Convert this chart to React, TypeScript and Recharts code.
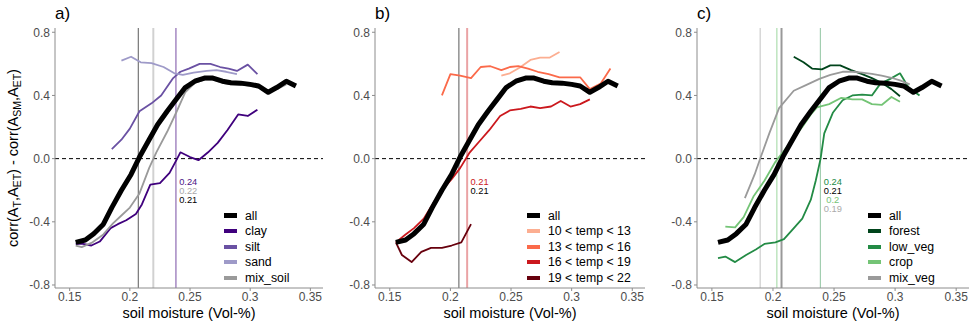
import React from 'react';
import {
    LineChart,
    Line,
    XAxis,
    YAxis,
    ReferenceLine,
    ReferenceDot,
} from 'recharts';

// --- Data ---
const ALL_X = [0.155, 0.163, 0.170, 0.178, 0.185, 0.193, 0.201, 0.208, 0.216, 0.223, 0.231, 0.239, 0.246, 0.254, 0.262, 0.269, 0.277, 0.284, 0.292, 0.300, 0.307, 0.315, 0.322, 0.330, 0.338];
const ALL_Y = [-0.53, -0.515, -0.475, -0.415, -0.31, -0.2, -0.1, 0.01, 0.12, 0.215, 0.3, 0.38, 0.45, 0.49, 0.51, 0.51, 0.49, 0.48, 0.478, 0.47, 0.46, 0.42, 0.45, 0.49, 0.46];

// soil texture
const CLAY_X = [0.155, 0.161, 0.168, 0.175, 0.184, 0.190, 0.197, 0.205, 0.210, 0.217, 0.225, 0.233, 0.239, 0.242, 0.250, 0.257, 0.265, 0.273, 0.281, 0.290, 0.298, 0.306];
const CLAY_Y = [-0.54, -0.54, -0.55, -0.525, -0.44, -0.415, -0.39, -0.35, -0.29, -0.165, -0.155, -0.09, -0.005, 0.04, 0.01, -0.01, 0.04, 0.1, 0.18, 0.28, 0.27, 0.31];
const SILT_X = [0.185, 0.193, 0.200, 0.208, 0.218, 0.226, 0.236, 0.242, 0.249, 0.258, 0.267, 0.275, 0.282, 0.289, 0.298, 0.306];
const SILT_Y = [0.06, 0.12, 0.19, 0.3, 0.35, 0.4, 0.51, 0.55, 0.57, 0.6, 0.6, 0.58, 0.57, 0.555, 0.595, 0.535];
const SAND_X = [0.193, 0.201, 0.209, 0.218, 0.228, 0.237, 0.244, 0.253, 0.264, 0.272, 0.280, 0.289];
const SAND_Y = [0.62, 0.645, 0.61, 0.605, 0.58, 0.54, 0.53, 0.545, 0.555, 0.56, 0.55, 0.535];
const MIXSOIL_X = [0.155, 0.160, 0.169, 0.178, 0.186, 0.193, 0.200, 0.208, 0.216, 0.222, 0.231, 0.239, 0.246, 0.254, 0.262, 0.269, 0.277, 0.284, 0.292, 0.300, 0.307, 0.315, 0.322, 0.330];
const MIXSOIL_Y = [-0.55, -0.56, -0.53, -0.48, -0.41, -0.36, -0.31, -0.22, -0.06, 0.04, 0.17, 0.3, 0.42, 0.48, 0.5, 0.5, 0.48, 0.47, 0.47, 0.46, 0.45, 0.42, 0.44, 0.47];

// temperature classes
const T1013_X = [0.242, 0.249, 0.257, 0.266, 0.274, 0.282, 0.290];
const T1013_Y = [0.525, 0.54, 0.575, 0.625, 0.64, 0.64, 0.675];
const T1316_X = [0.193, 0.200, 0.208, 0.217, 0.225, 0.233, 0.242, 0.249, 0.256, 0.264, 0.272, 0.281, 0.290, 0.298, 0.307, 0.315, 0.324, 0.332];
const T1316_Y = [0.4, 0.535, 0.525, 0.51, 0.58, 0.585, 0.56, 0.58, 0.585, 0.57, 0.55, 0.535, 0.515, 0.515, 0.515, 0.44, 0.475, 0.57];
const T1619_X = [0.155, 0.163, 0.170, 0.178, 0.186, 0.193, 0.201, 0.208, 0.216, 0.224, 0.232, 0.241, 0.249, 0.258, 0.266, 0.274, 0.283, 0.291, 0.299, 0.307, 0.315];
const T1619_Y = [-0.53, -0.48, -0.44, -0.38, -0.28, -0.2, -0.13, -0.06, 0.04, 0.11, 0.18, 0.27, 0.305, 0.315, 0.33, 0.32, 0.33, 0.365, 0.33, 0.345, 0.375];
const T1922_X = [0.155, 0.160, 0.168, 0.176, 0.184, 0.193, 0.201, 0.209, 0.217];
const T1922_Y = [-0.53, -0.61, -0.655, -0.59, -0.565, -0.565, -0.55, -0.53, -0.415];

// vegetation
const FOREST_X = [0.217, 0.225, 0.232, 0.240, 0.247, 0.255, 0.264, 0.273, 0.281, 0.289, 0.297, 0.304];
const FOREST_Y = [0.645, 0.61, 0.57, 0.565, 0.59, 0.59, 0.56, 0.535, 0.51, 0.48, 0.44, 0.395];
const LOWVEG_X = [0.155, 0.161, 0.169, 0.178, 0.186, 0.193, 0.202, 0.209, 0.216, 0.224, 0.231, 0.235, 0.239, 0.242, 0.249, 0.257, 0.265, 0.273, 0.281, 0.288, 0.296, 0.304, 0.311, 0.320];
const LOWVEG_Y = [-0.63, -0.62, -0.655, -0.61, -0.575, -0.54, -0.53, -0.51, -0.45, -0.38, -0.26, -0.14, 0.0, 0.16, 0.29, 0.37, 0.4, 0.405, 0.4, 0.475, 0.505, 0.54, 0.45, 0.4];
const CROP_X = [0.161, 0.169, 0.176, 0.184, 0.193, 0.202, 0.209, 0.216, 0.224, 0.231, 0.236, 0.246, 0.256, 0.265, 0.273, 0.281, 0.289, 0.297, 0.304];
const CROP_Y = [-0.43, -0.435, -0.37, -0.24, -0.14, -0.02, 0.05, 0.12, 0.2, 0.28, 0.325, 0.345, 0.385, 0.375, 0.375, 0.345, 0.34, 0.39, 0.36];
const MIXVEG_X = [0.177, 0.185, 0.190, 0.197, 0.205, 0.217, 0.227, 0.238, 0.247, 0.257, 0.265, 0.273, 0.281, 0.289, 0.297, 0.304, 0.312];
const MIXVEG_Y = [-0.25, -0.1, 0.01, 0.16, 0.32, 0.43, 0.465, 0.505, 0.53, 0.55, 0.55, 0.545, 0.537, 0.525, 0.512, 0.495, 0.47];

// zero crossings (thresholds) and printed labels
const THRESH_A = [0.207, 0.2195, 0.2383];
const THRESH_B = [0.207, 0.2138];
const THRESH_C = [0.1895, 0.2032, 0.207, 0.2388];
const LABELS_A = ['0.24', '0.22', '0.21'];
const LABELS_B = ['0.21', '0.21'];
const LABELS_C = ['0.24', '0.21', '0.2', '0.19'];

const X_TICKS = [0.15, 0.2, 0.25, 0.3, 0.35];
const Y_TICKS = [-0.8, -0.4, 0, 0.4, 0.8];

// --- Theme ---
const FONT = "'Liberation Sans', Arial, Helvetica, sans-serif";
const AXIS_GREY = '#8c8c8c';
const TICK_TEXT = '#4d4d4d';

const pts = (xs: number[], ys: number[]) => xs.map((x, i) => ({ x, y: ys[i] }));

type Series = { name: string; color: string; width: number; data: { x: number; y: number }[] };
type Thresh = { x: number; color: string; width: number; opacity: number };
type ValLabel = { text: string; color: string };

const ALL: Series = { name: 'all', color: '#000000', width: 5, data: pts(ALL_X, ALL_Y) };

const PANEL_A = {
    title: 'a)',
    series: [
        { name: 'clay', color: '#3f007d', width: 1.8, data: pts(CLAY_X, CLAY_Y) },
        { name: 'silt', color: '#6a51a3', width: 1.8, data: pts(SILT_X, SILT_Y) },
        { name: 'sand', color: '#9e9ac8', width: 1.8, data: pts(SAND_X, SAND_Y) },
        { name: 'mix_soil', color: '#9a9a9a', width: 1.8, data: pts(MIXSOIL_X, MIXSOIL_Y) },
    ],
    thresholds: [
        { x: THRESH_A[0], color: '#000000', width: 1, opacity: 0.65 },
        { x: THRESH_A[1], color: '#9a9a9a', width: 2, opacity: 0.45 },
        { x: THRESH_A[2], color: '#3f007d', width: 1, opacity: 0.7 },
    ],
    labels: [
        { text: LABELS_A[0], color: '#4a1486' },
        { text: LABELS_A[1], color: '#aaaaaa' },
        { text: LABELS_A[2], color: '#000000' },
    ],
};

const PANEL_B = {
    title: 'b)',
    series: [
        { name: '10 < temp < 13', color: '#fcae91', width: 1.8, data: pts(T1013_X, T1013_Y) },
        { name: '13 < temp < 16', color: '#fb6a4a', width: 1.8, data: pts(T1316_X, T1316_Y) },
        { name: '16 < temp < 19', color: '#cb181d', width: 1.8, data: pts(T1619_X, T1619_Y) },
        { name: '19 < temp < 22', color: '#67000d', width: 1.8, data: pts(T1922_X, T1922_Y) },
    ],
    thresholds: [
        { x: THRESH_B[0], color: '#000000', width: 1, opacity: 0.65 },
        { x: THRESH_B[1], color: '#cb181d', width: 2, opacity: 0.4 },
    ],
    labels: [
        { text: LABELS_B[0], color: '#cb181d' },
        { text: LABELS_B[1], color: '#000000' },
    ],
};

const PANEL_C = {
    title: 'c)',
    series: [
        { name: 'forest', color: '#00441b', width: 1.8, data: pts(FOREST_X, FOREST_Y) },
        { name: 'low_veg', color: '#238b45', width: 1.8, data: pts(LOWVEG_X, LOWVEG_Y) },
        { name: 'crop', color: '#74c476', width: 1.8, data: pts(CROP_X, CROP_Y) },
        { name: 'mix_veg', color: '#9a9a9a', width: 1.8, data: pts(MIXVEG_X, MIXVEG_Y) },
    ],
    thresholds: [
        { x: THRESH_C[0], color: '#9a9a9a', width: 1, opacity: 0.6 },
        { x: THRESH_C[1], color: '#74c476', width: 1, opacity: 0.7 },
        { x: THRESH_C[2], color: '#000000', width: 2, opacity: 0.4 },
        { x: THRESH_C[3], color: '#238b45', width: 1, opacity: 0.5 },
    ],
    labels: [
        { text: LABELS_C[0], color: '#238b45' },
        { text: LABELS_C[1], color: '#000000' },
        { text: LABELS_C[2], color: '#74c476' },
        { text: LABELS_C[3], color: '#aaaaaa' },
    ],
};

// --- Components ---

function YTitle(props: any) {
    const vb = props.viewBox || { x: 0, y: 0, width: 0, height: 0 };
    const cx = vb.x + 13;
    const cy = vb.y + vb.height / 2;
    const sub = (s: string, k: string) => <tspan key={k} dy={3.5} fontSize={10.5}>{s}</tspan>;
    return (
        <text
            x={cx}
            y={cy}
            transform={`rotate(-90, ${cx}, ${cy})`}
            textAnchor="middle"
            dominantBaseline="central"
            fontSize={14.5}
            fontFamily={FONT}
            fill="#000"
        >
            <tspan>corr(A</tspan>
            {sub('T', 's1')}
            <tspan dy={-3.5}>,A</tspan>
            {sub('ET', 's2')}
            <tspan dy={-3.5}>) - corr(A</tspan>
            {sub('SM', 's3')}
            <tspan dy={-3.5}>,A</tspan>
            {sub('ET', 's4')}
            <tspan dy={-3.5}>)</tspan>
        </text>
    );
}

function LegendBox({ items, left }: { items: Series[]; left: number }) {
    return (
        <div style={{ position: 'absolute', left, top: 208, fontFamily: FONT, fontSize: 12.3, color: '#000' }}>
            {items.map((s) => (
                <div key={s.name} style={{ display: 'flex', alignItems: 'center', height: 15.5 }}>
                    <span style={{ display: 'inline-block', width: 13, height: s.width > 3 ? 5 : 4, background: s.color, marginRight: 8 }} />
                    <span style={{ whiteSpace: 'pre' }}>{s.name}</span>
                </div>
            ))}
        </div>
    );
}

function Panel({
    panel, left, width, rightMargin, legendLeft, showYTitle,
}: {
    panel: { title: string; series: Series[]; thresholds: Thresh[]; labels: ValLabel[] };
    left: number; width: number; rightMargin: number; legendLeft: number; showYTitle: boolean;
}) {
    const labelX = Math.max(...panel.thresholds.map((t) => t.x)) + 0.0102;
    const legendItems = [ALL, ...panel.series];
    return (
        <div style={{ position: 'absolute', left, top: 0, width, height: 327 }}>
            <div style={{ position: 'absolute', left: 55, top: 3, fontFamily: FONT, fontSize: 17, lineHeight: '22px', color: '#000' }}>
                {panel.title}
            </div>
            <LineChart width={width} height={327} margin={{ top: 28, right: rightMargin, left: 0, bottom: 0 }}>
                <XAxis
                    type="number"
                    dataKey="x"
                    domain={[0.1378, 0.3605]}
                    ticks={X_TICKS}
                    allowDataOverflow
                    height={39}
                    tickFormatter={(v: number) => String(v)}
                    tick={{ fill: TICK_TEXT, fontSize: 12, fontFamily: FONT }}
                    tickSize={3}
                    tickMargin={1}
                    stroke={AXIS_GREY}
                    label={{ value: 'soil moisture (Vol-%)', position: 'insideBottom', offset: 9, fill: '#000', fontSize: 14.5, fontFamily: FONT }}
                />
                <YAxis
                    type="number"
                    dataKey="y"
                    domain={[-0.819, 0.827]}
                    ticks={Y_TICKS}
                    allowDataOverflow
                    width={55}
                    tickFormatter={(v: number) => v.toFixed(1)}
                    tick={{ fill: TICK_TEXT, fontSize: 12, fontFamily: FONT }}
                    tickSize={3}
                    tickMargin={2}
                    stroke={AXIS_GREY}
                    label={showYTitle ? (p: any) => <YTitle {...p} /> : undefined}
                />
                {panel.thresholds.map((t, i) => (
                    <ReferenceLine key={`t-${i}`} x={t.x} stroke={t.color} strokeWidth={t.width} strokeOpacity={t.opacity} />
                ))}
                <ReferenceLine y={0} stroke="#000" strokeDasharray="4 3" strokeWidth={1} />
                {panel.series.map((s) => (
                    <Line
                        key={s.name}
                        data={s.data}
                        dataKey="y"
                        type="linear"
                        stroke={s.color}
                        strokeWidth={s.width}
                        dot={false}
                        isAnimationActive={false}
                        strokeLinejoin="round"
                    />
                ))}
                <Line
                    data={ALL.data}
                    dataKey="y"
                    type="linear"
                    stroke={ALL.color}
                    strokeWidth={ALL.width}
                    dot={false}
                    isAnimationActive={false}
                    strokeLinejoin="round"
                />
                {panel.labels.map((l, i) => (
                    <ReferenceDot
                        key={`l-${i}`}
                        x={labelX}
                        y={-0.148 - i * 0.058}
                        r={1}
                        shape={(p: any) => (
                            <text x={p.cx} y={p.cy} textAnchor="middle" dominantBaseline="central" fontSize={9.3} fontFamily={FONT} fill={l.color}>
                                {l.text}
                            </text>
                        )}
                    />
                ))}
            </LineChart>
            <LegendBox items={legendItems} left={legendLeft} />
        </div>
    );
}

export default function App() {
    return (
        <div style={{ position: 'absolute', left: 0, top: 0, width: 969, height: 327, background: '#fff', overflow: 'hidden' }}>
            <Panel panel={PANEL_A} left={0} width={328} rightMargin={5} legendLeft={224} showYTitle />
            <Panel panel={PANEL_B} left={320} width={330} rightMargin={5} legendLeft={207} showYTitle={false} />
            <Panel panel={PANEL_C} left={642} width={327} rightMargin={0} legendLeft={226} showYTitle={false} />
        </div>
    );
}
